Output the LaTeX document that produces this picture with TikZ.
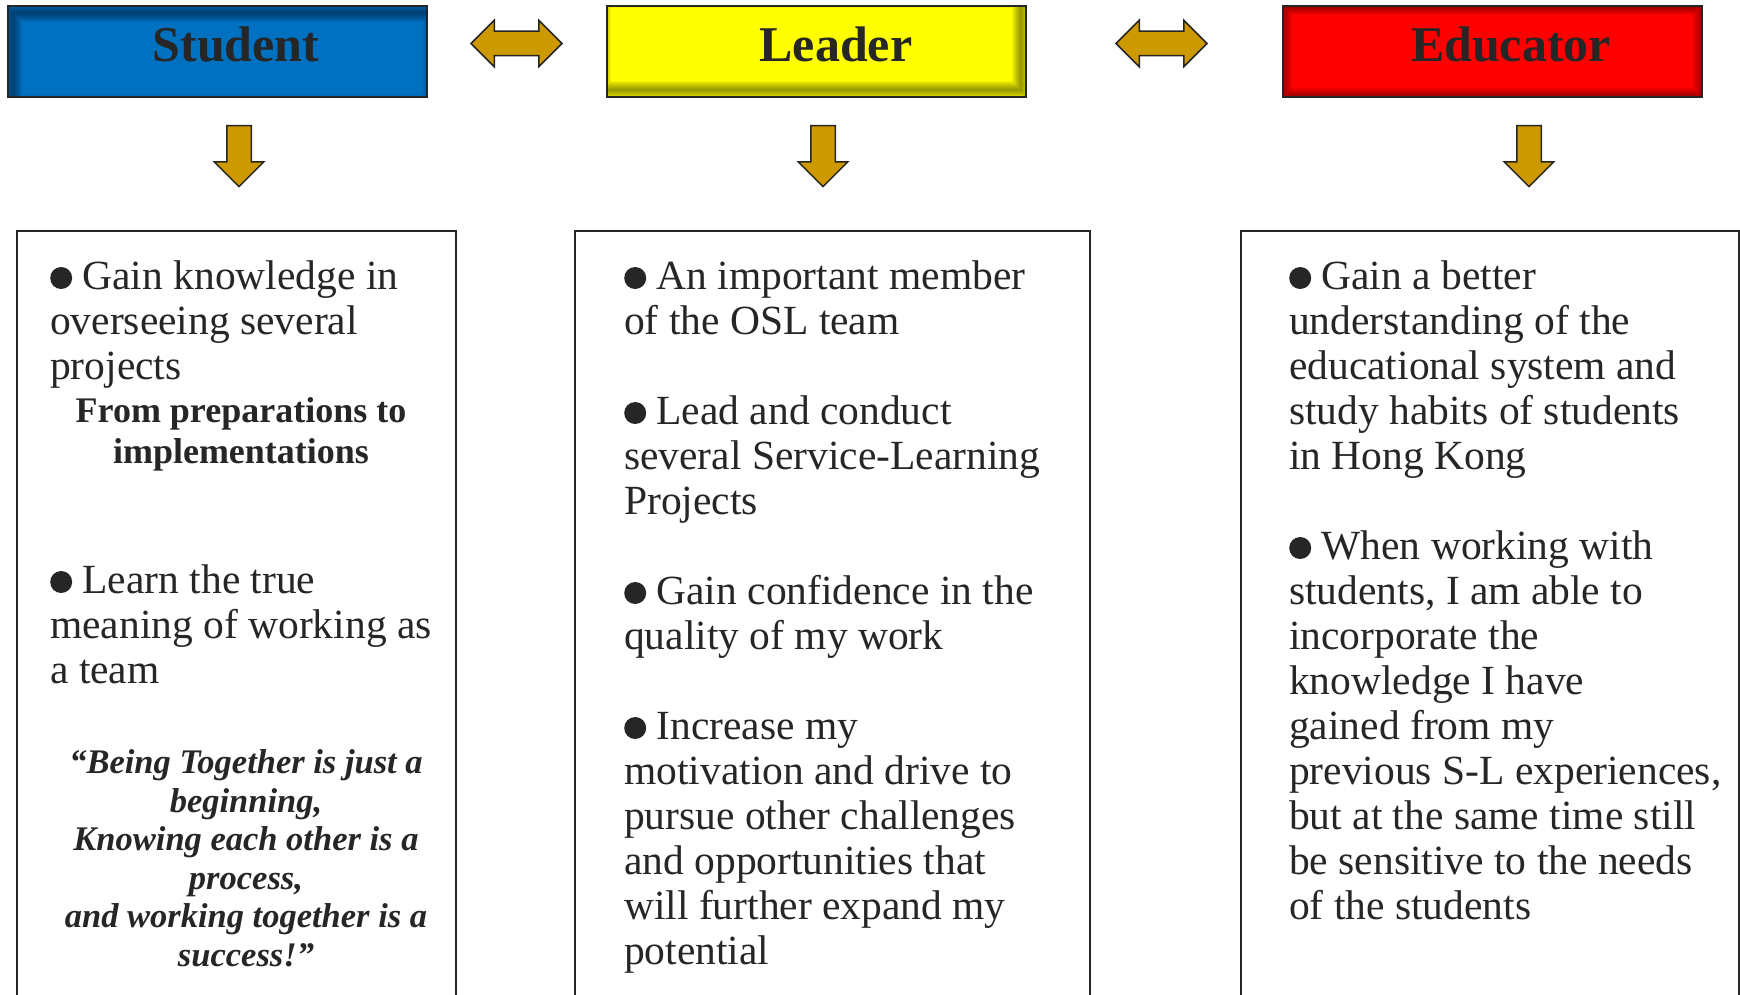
\documentclass[tikz,border=0pt]{standalone}
\usepackage{fontspec}
\setmainfont{Liberation Serif}
\usetikzlibrary{shapes.arrows,positioning}
\definecolor{stublue}{RGB}{0,112,192}
\definecolor{leadyellow}{RGB}{255,255,0}
\definecolor{edured}{RGB}{255,0,0}
\definecolor{arrowgold}{RGB}{204,153,0}
\definecolor{inkgray}{RGB}{38,38,38}

% round bullet in front of each point
\newcommand{\blob}{\tikz[baseline=-11pt]\fill[inkgray] (0,0) circle (11pt);}

\tikzset{
  headbox/.style={draw=inkgray, line width=2, minimum width=419, minimum height=91, inner sep=0},
  headtext/.style={anchor=base, inner sep=0, text=inkgray, font=\fontsize{50}{54}\selectfont\bfseries},
  % soft dark rim inside a header, offset gives the side that is darker
  innershade/.style n args={3}{path picture={
      \foreach \i in {1,...,9}
        \draw[black, opacity=#3, line width=\i*2pt]
          ([shift={(#1,#2)}]path picture bounding box.south west) rectangle
          ([shift={(#1,#2)}]path picture bounding box.north east);
    }},
  % shaft is 2*inner sep wide
  blockarrow/.style={fill=arrowgold, draw=inkgray, line width=1.5, inner sep=11.5},
  listbox/.style={draw=inkgray, line width=1.8, anchor=north west, inner sep=0},
  % multi-line texts are placed by the baseline of their last line
  bodytext/.style={anchor=base west, align=left, inner sep=0, text=inkgray, font=\fontsize{41.5}{45}\selectfont},
  boldtext/.style={anchor=base, align=center, inner sep=0, text=inkgray, font=\fontsize{36}{41}\selectfont\bfseries},
  quotetext/.style={anchor=base, align=center, inner sep=0, text=inkgray, font=\fontsize{34.5}{38.5}\selectfont\bfseries\itshape}
}

\begin{document}
\begin{tikzpicture}[x=1pt,y=-1pt]
  \path[use as bounding box, fill=white] (0,0) rectangle (1740,995);

  % the three roles
  \node[headbox, fill=stublue, innershade={5}{7}{0.05}] (stu) at (217.5,51.5) {};
  \node[headbox, fill=leadyellow, innershade={-5}{-7}{0.05}] (lead) at (816.5,51.5) {};
  \node[headbox, fill=edured, innershade={0}{0}{0.05}] (edu) at (1492,51.5) {};
  \node[headtext] (stuTitle) at (236,62) {Student};
  \node[headtext] (leadTitle) at (836,62) {Leader};
  \node[headtext] (eduTitle) at (1511,62) {Educator};

  % arrows between and below the roles
  \node[blockarrow, double arrow, minimum height=91, minimum width=45, double arrow head extend=11] (stuLead) at (516.5,43.5) {};
  \node[blockarrow, double arrow, minimum height=91, minimum width=45, double arrow head extend=11] (leadEdu) at (1161.5,43.5) {};
  \foreach \name/\x in {stuDown/239, leadDown/823, eduDown/1529}
    \node[blockarrow, single arrow, minimum height=61, minimum width=48, single arrow head extend=12.5, shape border rotate=270] (\name) at (\x,155.5-5.5) {};

  % boxes with the points
  \node[listbox, minimum width=439, minimum height=780] (stuList) at (16,230) {};
  \node[listbox, minimum width=515, minimum height=780] (leadList) at (574,230) {};
  \node[listbox, minimum width=498, minimum height=780] (eduList) at (1240,230) {};

  % Student
  \node[bodytext] (stuA) at (50,379) {\blob\ Gain knowledge in\\overseeing several\\projects};
  \node[boldtext] (stuB) at (241,463) {From preparations to\\implementations};
  \node[bodytext] (stuC) at (50,683) {\blob\ Learn the true\\meaning of working as\\a team};
  \node[quotetext] (stuQuote) at (246,966) {“Being Together is just a\\beginning,\\Knowing each other is a\\process,\\and working together is a\\success!”};

  % Leader
  \node[bodytext] (leadA) at (624,964) {\blob\ An important member\\of the OSL team\\[45pt]
    \blob\ Lead and conduct\\several Service-Learning\\Projects\\[45pt]
    \blob\ Gain confidence in the\\quality of my work\\[45pt]
    \blob\ Increase my\\motivation and drive to\\pursue other challenges\\and opportunities that\\will further expand my\\potential};

  % Educator
  \node[bodytext] (eduA) at (1289,919) {\blob\ Gain a better\\understanding of the\\educational system and\\study habits of students\\in Hong Kong\\[45pt]
    \blob\ When working with\\students, I am able to\\incorporate the\\knowledge I have\\gained from my\\previous S-L experiences,\\but at the same time still\\be sensitive to the needs\\of the students};
\end{tikzpicture}
\end{document}
